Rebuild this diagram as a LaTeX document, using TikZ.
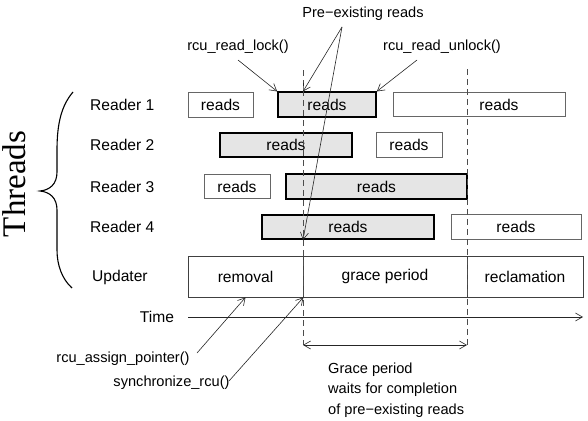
\documentclass[tikz,border=0pt]{standalone}
\usepackage{fontspec}
\setmainfont{Liberation Sans}
\newfontfamily\thrfont{Liberation Serif}
\usetikzlibrary{arrows.meta}

\begin{document}
\begin{tikzpicture}[x=1pt, y=-1pt]
    % Define styles
    \tikzstyle{rdbox} = [draw=black!60, line width=0.8pt, fill=white, minimum height=24.5pt, inner sep=0pt, font=\fontsize{15.6}{18}\selectfont]
    \tikzstyle{rdshade} = [draw=black, line width=1.6pt, fill=black!10, minimum height=24.5pt, inner sep=0pt, font=\fontsize{15.6}{18}\selectfont]
    \tikzstyle{updbox} = [draw=black!75, line width=0.8pt, minimum height=41pt, inner sep=0pt, font=\fontsize{15.6}{18}\selectfont]
    \tikzstyle{lbl} = [inner sep=0pt, font=\fontsize{15.6}{18}\selectfont]
    \tikzstyle{note} = [inner sep=0pt, font=\fontsize{14.6}{20.5}\selectfont]
    \tikzstyle{arrow} = [-{Straight Barb[length=7pt,width=8pt]}, line width=0.6pt, black!85]
    \tikzstyle{dblarrow} = [{Straight Barb[length=7pt,width=8pt]}-{Straight Barb[length=7pt,width=8pt]}, line width=0.6pt, black!85]
    \tikzstyle{gpline} = [dash pattern=on 6pt off 4pt, line width=0.7pt, black!70]

    \useasboundingbox (0,0) rectangle (588,420);

    % Thread labels
    \node[lbl, anchor=west] (rd1) at (90,104.5) {Reader 1};
    \node[lbl, anchor=west] (rd2) at (90,145) {Reader 2};
    \node[lbl, anchor=west] (rd3) at (90,186.5) {Reader 3};
    \node[lbl, anchor=west] (rd4) at (90,227) {Reader 4};
    \node[lbl, anchor=west] (upd) at (92,277) {Updater};
    \node[inner sep=0pt, rotate=90, font=\thrfont\fontsize{33}{33}\selectfont] (thr) at (14,184) {Threads};

    % Brace round the threads
    \draw[line width=1.1pt] (73,92) .. controls (62,105) and (57,122) .. (57,150) -- (57,172)
        .. controls (57,184) and (50,190) .. (40,191) .. controls (50,192) and (57,198) .. (57,210)
        -- (57,250) .. controls (57,265) and (62,279) .. (72,288);

    % Read-side critical sections
    \node[rdbox, minimum width=65pt] (r1a) at (220.5,105) {reads};
    \node[rdshade, minimum width=98pt] (r1b) at (327,104.5) {reads};
    \node[rdbox, minimum width=172pt, label={[lbl, xshift=20pt]center:reads}] (r1c) at (479,104.5) {};
    \node[rdshade, minimum width=132pt] (r2a) at (286,145) {reads};
    \node[rdbox, minimum width=66pt] (r2b) at (409,145) {reads};
    \node[rdbox, minimum width=66pt] (r3a) at (237,186.5) {reads};
    \node[rdshade, minimum width=181pt] (r3b) at (376.5,186.5) {reads};
    \node[rdshade, minimum width=172pt] (r4a) at (348,227) {reads};
    \node[rdbox, minimum width=130pt] (r4b) at (516,227) {reads};

    % Updater phases
    \node[updbox, minimum width=115pt] (upd1) at (245.5,276.5) {removal};
    \node[updbox, minimum width=164pt] (upd2) at (385,276.5) {grace period};
    \node[updbox, minimum width=116pt] (upd3) at (525,276.5) {reclamation};

    % Grace period bounds
    \coordinate (gptop) at (303,70);
    \coordinate (gpbot) at (303,345);
    \coordinate (gqtop) at (467,69);
    \coordinate (gqbot) at (467,345);
    \draw[gpline] (gptop) -- (gpbot);
    \draw[gpline] (gqtop) -- (gqbot);
    \draw[dblarrow] (gpbot) -- (gqbot);

    % Time axis
    \node[lbl] (time) at (157,317) {Time};
    \coordinate (tstart) at (188,317);
    \coordinate (tend) at (583,317);
    \draw[arrow] (tstart) -- (tend);

    % Annotations
    \node[note] (pre) at (363,14) {Pre−existing reads};
    \node[note] (lock) at (238,47) {rcu\_read\_lock()};
    \node[note] (unlock) at (442,47) {rcu\_read\_unlock()};
    \node[note] (assign) at (123,359) {rcu\_assign\_pointer()};
    \node[note] (sync) at (171.5,383) {synchronize\_rcu()};
    \node[note, align=left, anchor=north west] (gpnote) at (328,362.5) {Grace period\\waits for completion\\of pre−existing reads};

    \coordinate (prefoot) at (342,27);
    \coordinate (lockfoot) at (238,60);
    \coordinate (unlockfoot) at (417,60);
    \coordinate (assignfoot) at (197,353);
    \coordinate (syncfoot) at (229,381);

    \draw[arrow] (lockfoot) -- (r1b.north west);
    \draw[arrow] (unlockfoot) -- (r1b.north east);
    \draw[arrow] (prefoot) -- (r1b.north -| gptop);
    \draw[arrow] (prefoot) -- (r4a.south -| gptop);
    \draw[arrow] (assignfoot) -- (upd1.south);
    \draw[arrow] (syncfoot) -- (upd1.south east);

\end{tikzpicture}
\end{document}
